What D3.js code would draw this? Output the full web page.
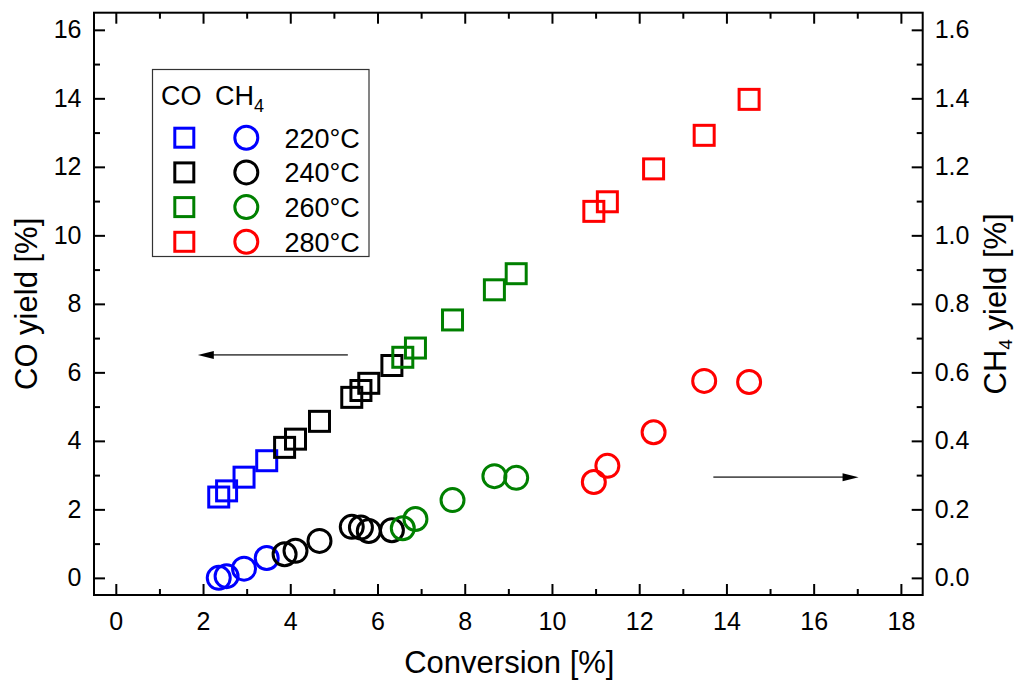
<!DOCTYPE html>
<html><head><meta charset="utf-8">
<script src="https://cdn.jsdelivr.net/npm/d3@7/dist/d3.min.js"></script>
<style>body{margin:0;background:#fff}svg{display:block;font-family:"Liberation Sans",Arial,sans-serif}</style>
</head><body><svg id="c" width="1016" height="681"></svg>
<script>
// ---- data ----
const temps = ["220°C", "240°C", "260°C", "280°C"];
const colors = ["#0000ff", "#000000", "#008000", "#ff0000"];
const conv220 = [2.36, 2.54, 2.94, 3.46];
const co220   = [2.36, 2.54, 2.94, 3.42];
const ch4_220 = [0.000, 0.005, 0.027, 0.058];
const conv240 = [3.87, 4.12, 4.67, 5.41, 5.62, 5.80, 6.33];
const co240   = [3.81, 4.05, 4.57, 5.27, 5.47, 5.68, 6.20];
const ch4_240 = [0.069, 0.079, 0.108, 0.149, 0.147, 0.137, 0.139];
const conv260 = [6.58, 6.87, 7.72, 8.68, 9.18];
const co260   = [6.44, 6.71, 7.53, 8.41, 8.88];
const ch4_260 = [0.145, 0.172, 0.227, 0.297, 0.292];
const conv280 = [10.96, 11.27, 12.33, 13.49, 14.52];
const co280   = [10.70, 10.98, 11.94, 12.92, 13.97];
const ch4_280 = [0.280, 0.327, 0.425, 0.575, 0.572];
const xTicks = [0, 2, 4, 6, 8, 10, 12, 14, 16, 18];
const yTicks = [0, 2, 4, 6, 8, 10, 12, 14, 16];
const y2Ticks = [0.0, 0.2, 0.4, 0.6, 0.8, 1.0, 1.2, 1.4, 1.6];
const arrowLeft = {x1: 5.32, x2: 1.88, y: 6.51};
const arrowRight = {x1: 13.70, x2: 17.03, y: 0.294};

const groups = [
  {conv: conv220, co: co220, ch4: ch4_220},
  {conv: conv240, co: co240, ch4: ch4_240},
  {conv: conv260, co: co260, ch4: ch4_260},
  {conv: conv280, co: co280, ch4: ch4_280}
];

// ---- layout ----
const L = 94, R = 922.7, T = 12.7, B = 595;
const svg = d3.select("#c");
const x = d3.scaleLinear().domain([-0.5, 18.5]).range([L, R]);
const y = d3.scaleLinear().domain([-0.5, 16.5]).range([B, T]);
const y2 = d3.scaleLinear().domain([-0.05, 1.65]).range([B, T]);

const MAJ = 11, MIN = 6, FS = 25;

function drawAxis(g, axis) { g.call(axis); g.select(".domain").remove(); g.selectAll("line").attr("stroke", "#000").attr("stroke-width", 2); }

const xMinor = d3.range(-0, 19, 1).filter(v => v % 2 !== 0);
const yMinor = d3.range(1, 17, 2);
const y2Minor = d3.range(0.1, 1.65, 0.2).map(v => +v.toFixed(2));

// bottom
drawAxis(svg.append("g").attr("transform", `translate(0,${B})`),
  d3.axisBottom(x).tickValues(xTicks).tickSize(-MAJ).tickPadding(MAJ + 6).tickFormat(d3.format("d")));
drawAxis(svg.append("g").attr("transform", `translate(0,${B})`),
  d3.axisBottom(x).tickValues(xMinor).tickSize(-MIN).tickFormat(""));
// top
drawAxis(svg.append("g").attr("transform", `translate(0,${T})`),
  d3.axisTop(x).tickValues(xTicks).tickSize(-MAJ).tickFormat(""));
drawAxis(svg.append("g").attr("transform", `translate(0,${T})`),
  d3.axisTop(x).tickValues(xMinor).tickSize(-MIN).tickFormat(""));
// left
drawAxis(svg.append("g").attr("transform", `translate(${L},0)`),
  d3.axisLeft(y).tickValues(yTicks).tickSize(-MAJ).tickPadding(MAJ + 1.5).tickFormat(d3.format("d")));
drawAxis(svg.append("g").attr("transform", `translate(${L},0)`),
  d3.axisLeft(y).tickValues(yMinor).tickSize(-MIN).tickFormat(""));
// right
drawAxis(svg.append("g").attr("transform", `translate(${R},0)`),
  d3.axisRight(y2).tickValues(y2Ticks).tickSize(-MAJ).tickPadding(MAJ + 1).tickFormat(d3.format(".1f")));
drawAxis(svg.append("g").attr("transform", `translate(${R},0)`),
  d3.axisRight(y2).tickValues(y2Minor).tickSize(-MIN).tickFormat(""));

svg.selectAll(".tick text").attr("font-size", FS).attr("fill", "#000").attr("font-family", "Liberation Sans, Arial, sans-serif");

// frame
svg.append("rect").attr("x", L).attr("y", T).attr("width", R - L).attr("height", B - T)
  .attr("fill", "none").attr("stroke", "#000").attr("stroke-width", 2);

// axis titles
svg.append("text").attr("x", (L + R) / 2 + 1).attr("y", 673).attr("text-anchor", "middle")
  .attr("font-size", 31).text("Conversion [%]");
svg.append("text").attr("transform", `translate(37,${(T + B) / 2}) rotate(-90)`).attr("text-anchor", "middle")
  .attr("font-size", 31).text("CO yield [%]");
const t2 = svg.append("text").attr("transform", `translate(1006,${(T + B) / 2}) rotate(-90)`).attr("text-anchor", "middle")
  .attr("font-size", 31);
t2.append("tspan").text("CH");
t2.append("tspan").attr("font-size", 19).attr("dy", 6).text("4");
t2.append("tspan").attr("dy", -6).text(" yield [%]");

// markers
const SQ = 20, RC = 11.5, SW = 3;
groups.forEach((g, i) => {
  const pts = g.conv.map((c, k) => ({c, co: g.co[k], ch4: g.ch4[k]}));
  svg.append("g").selectAll("rect").data(pts).join("rect")
    .attr("x", d => x(d.c) - SQ / 2).attr("y", d => y(d.co) - SQ / 2)
    .attr("width", SQ).attr("height", SQ)
    .attr("fill", "none").attr("stroke", colors[i]).attr("stroke-width", SW);
  svg.append("g").selectAll("circle").data(pts).join("circle")
    .attr("cx", d => x(d.c)).attr("cy", d => y2(d.ch4)).attr("r", RC)
    .attr("fill", "none").attr("stroke", colors[i]).attr("stroke-width", SW);
});

// arrows
function arrow(x1, x2, yy) {
  const dir = Math.sign(x2 - x1);
  svg.append("line").attr("x1", x1).attr("x2", x2 - dir * 14).attr("y1", yy).attr("y2", yy)
    .attr("stroke", "#555").attr("stroke-width", 1.6);
  svg.append("path").attr("d", `M${x2},${yy} L${x2 - dir * 16},${yy - 4} L${x2 - dir * 16},${yy + 4} Z`).attr("fill", "#000");
}
arrow(x(arrowLeft.x1), x(arrowLeft.x2), y(arrowLeft.y));
arrow(x(arrowRight.x1), x(arrowRight.x2), y2(arrowRight.y));

// legend
const lg = svg.append("g");
lg.append("rect").attr("x", 152.5).attr("y", 69.5).attr("width", 216.5).attr("height", 187)
  .attr("fill", "#fff").attr("stroke", "#333").attr("stroke-width", 1.2);
lg.append("text").attr("x", 161).attr("y", 105).attr("font-size", 27).text("CO");
const lh = lg.append("text").attr("x", 215).attr("y", 105).attr("font-size", 27);
lh.append("tspan").text("CH");
lh.append("tspan").attr("font-size", 18).attr("dy", 7).text("4");
temps.forEach((t, i) => {
  const cy = 137.7 + i * 34.7;
  lg.append("rect").attr("x", 184.3 - 9.5).attr("y", cy - 9.5).attr("width", 19).attr("height", 19)
    .attr("fill", "none").attr("stroke", colors[i]).attr("stroke-width", SW);
  lg.append("circle").attr("cx", 246.3).attr("cy", cy).attr("r", 11.5)
    .attr("fill", "none").attr("stroke", colors[i]).attr("stroke-width", SW);
  lg.append("text").attr("x", 284.5).attr("y", cy + 9.8).attr("font-size", 27).text(t);
});
</script></body></html>
